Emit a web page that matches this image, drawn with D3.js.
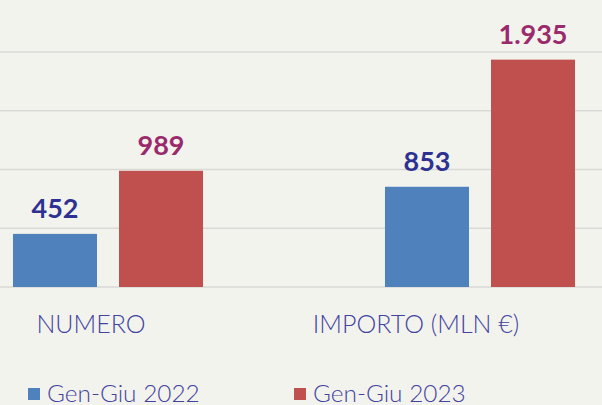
<!DOCTYPE html>
<meta charset="UTF-8">
<html>
<head>
	<title>Gen-Giu 2022 vs 2023</title>
	<script src="https://cdn.jsdelivr.net/npm/d3@7"></script>
	<style>
		body { margin: 0; background: #f3f3ee; }
		svg { display: block; font-family: Lato, "DejaVu Sans", sans-serif; }
	</style>
</head>
<body>
	<svg id="chart" width="602" height="405"></svg>

	<script>
		// data
		var categories = ["NUMERO", "IMPORTO (MLN €)"];
		var series = ["Gen-Giu 2022", "Gen-Giu 2023"];
		var values2022 = [452, 853];
		var values2023 = [989, 1935];
		var valueLabels2022 = ["452", "853"];
		var valueLabels2023 = ["989", "1.935"];
		var gridTicks = [0, 500, 1000, 1500, 2000];

		var barColors = ["#4f81bd", "#c0504d"];
		var labelColors = ["#2e3192", "#9b2a6c"];
		var textColor = "#4343a0";
		// the category captions sit a little left of their bar groups
		var captionShift = [-17, -64];

		var rows = categories.map(function(c, i){
			return {cat: c, vals: [values2022[i], values2023[i]],
				labels: [valueLabels2022[i], valueLabels2023[i]]};
		});

		var svg = d3.select("#chart");

		svg.append("rect")
			.attr("width", 602).attr("height", 405)
			.style("fill", "#f3f3ee");

		var y = d3.scaleLinear()
			.domain([0, 2000])
			.range([287, 52]);

		// outer scale runs past the right edge, as in the cropped original
		var x0 = d3.scaleBand()
			.domain(categories)
			.range([-78, 666]);

		var x1 = d3.scaleBand()
			.domain([0, 1])
			.range([0, x0.bandwidth()])
			.paddingInner(0.2075)
			.paddingOuter(0.858);

		// gridlines
		svg.append("g").selectAll("line")
			.data(gridTicks)
			.enter()
			.append("line")
				.attr("x1", 0)
				.attr("x2", 602)
				.attr("y1", function(d){ return y(d); })
				.attr("y2", function(d){ return y(d); })
				.attr("stroke", "#d9d9d6")
				.attr("stroke-width", 1.5);

		var groups = svg.selectAll("g.grp")
			.data(rows)
			.enter()
			.append("g")
				.attr("class", "grp")
				.attr("transform", function(d){ return "translate(" + x0(d.cat) + ",0)"; });

		groups.selectAll("rect")
			.data(function(d){ return d.vals.map(function(v, k){ return {k: k, v: v}; }); })
			.enter()
			.append("rect")
				.attr("x", function(d){ return x1(d.k); })
				.attr("y", function(d){ return y(d.v); })
				.attr("width", x1.bandwidth())
				.attr("height", function(d){ return y(0) - y(d.v); })
				.style("fill", function(d){ return barColors[d.k]; });

		groups.selectAll("text.val")
			.data(function(d){ return d.vals.map(function(v, k){ return {k: k, v: v, t: d.labels[k]}; }); })
			.enter()
			.append("text")
				.attr("class", "val")
				.attr("x", function(d){ return x1(d.k) + x1.bandwidth() / 2; })
				.attr("y", function(d){ return y(d.v) - 16; })
				.attr("text-anchor", "middle")
				.style("font-size", "27px")
				.style("font-weight", "bold")
				.style("fill", function(d){ return labelColors[d.k]; })
				.text(function(d){ return d.t; });

		// category captions
		svg.append("g").selectAll("text")
			.data(categories)
			.enter()
			.append("text")
				.attr("x", function(d, i){ return x0(d) + x0.bandwidth() / 2 + captionShift[i]; })
				.attr("y", 333)
				.attr("text-anchor", "middle")
				.style("font-size", "25px")
				.style("font-weight", 300)
				.style("fill", textColor)
				.text(function(d){ return d; });

		// legend
		var legend = svg.append("g").selectAll("g")
			.data(series)
			.enter()
			.append("g")
				.attr("transform", function(d, i){ return "translate(" + (28 + i * 266) + ",388)"; });

		legend.append("rect")
			.attr("width", 12)
			.attr("height", 12)
			.style("fill", function(d, i){ return barColors[i]; });

		legend.append("text")
			.attr("x", 19)
			.attr("y", 13.5)
			.style("font-size", "24.4px")
			.style("font-weight", 300)
			.style("fill", textColor)
			.text(function(d){ return d; });
	</script>
</body>
</html>
